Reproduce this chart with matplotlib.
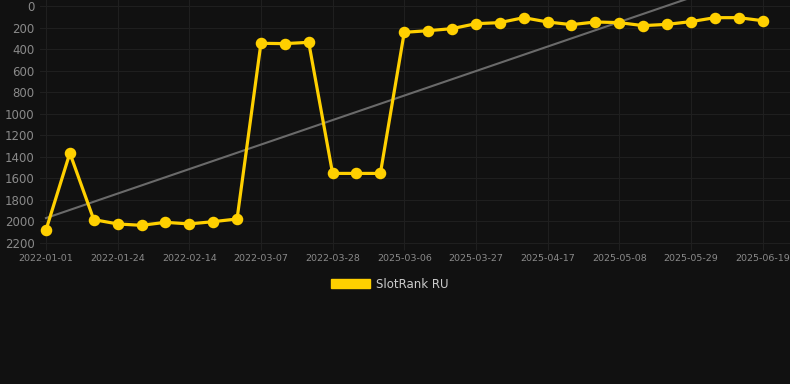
import matplotlib
matplotlib.use("Agg")
import matplotlib.pyplot as plt
import numpy as np
from matplotlib.patches import Patch

# rank per snapshot (lower is better)
ranks = [2080, 1365, 1983, 2023, 2036, 2008, 2023, 2002, 1977,
         346, 349, 337, 1554, 1554, 1554,
         244, 229, 210, 164, 154, 108, 148, 173, 148, 154,
         182, 170, 145, 108, 108, 136]
tick_labels = ["2022-01-01", "2022-01-24", "2022-02-14", "2022-03-07", "2022-03-28",
               "2025-03-06", "2025-03-27", "2025-04-17", "2025-05-08", "2025-05-29",
               "2025-06-19"]
y_ticks = list(range(0, 2201, 200))
series_name = "SlotRank RU"


def main():
    bg = "#111111"
    gold = "#FFD000"
    grid = "#1f1f1f"
    text = "#8a8a8a"

    fig = plt.figure(figsize=(7.9, 3.84), dpi=100, facecolor=bg)
    ax = fig.add_axes([40 / 790, 1 - 243 / 384, 750 / 790, 243 / 384])
    ax.set_facecolor(bg)

    x = np.arange(len(ranks))
    # linear trend through the points
    k, b = np.polyfit(x, ranks, 1)
    ax.plot(x, k * x + b, color="#6a6a6a", linewidth=1.5, zorder=2)

    ax.plot(x, ranks, color=gold, linewidth=2.3, marker="o", markersize=7.3,
            markerfacecolor=gold, markeredgecolor=gold, zorder=3)

    ax.set_ylim(2200, -56)
    ax.set_xlim(-0.25, 31.15)
    ax.set_yticks(y_ticks)
    ax.set_xticks(x[::3])
    ax.set_xticklabels(tick_labels)

    ax.grid(True, color=grid, linewidth=0.8)
    for side in ["top", "right", "left"]:
        ax.spines[side].set_visible(False)
    ax.spines["bottom"].set_color(grid)
    ax.tick_params(axis="y", length=0, pad=4, labelsize=8.5, labelcolor=text)
    ax.tick_params(axis="x", length=5, color=grid, pad=3, labelsize=6.8, labelcolor=text)

    handle = Patch(facecolor=gold, edgecolor=gold)
    fig.legend([handle], [series_name], loc="center", bbox_to_anchor=(390 / 790, 1 - 284 / 384),
               frameon=False, fontsize=8.5, labelcolor="#cccccc", handlelength=3.3,
               handleheight=0.9, handletextpad=0.5)

    fig.savefig("out.png", dpi=100, facecolor=bg)


if __name__ == "__main__":
    main()
